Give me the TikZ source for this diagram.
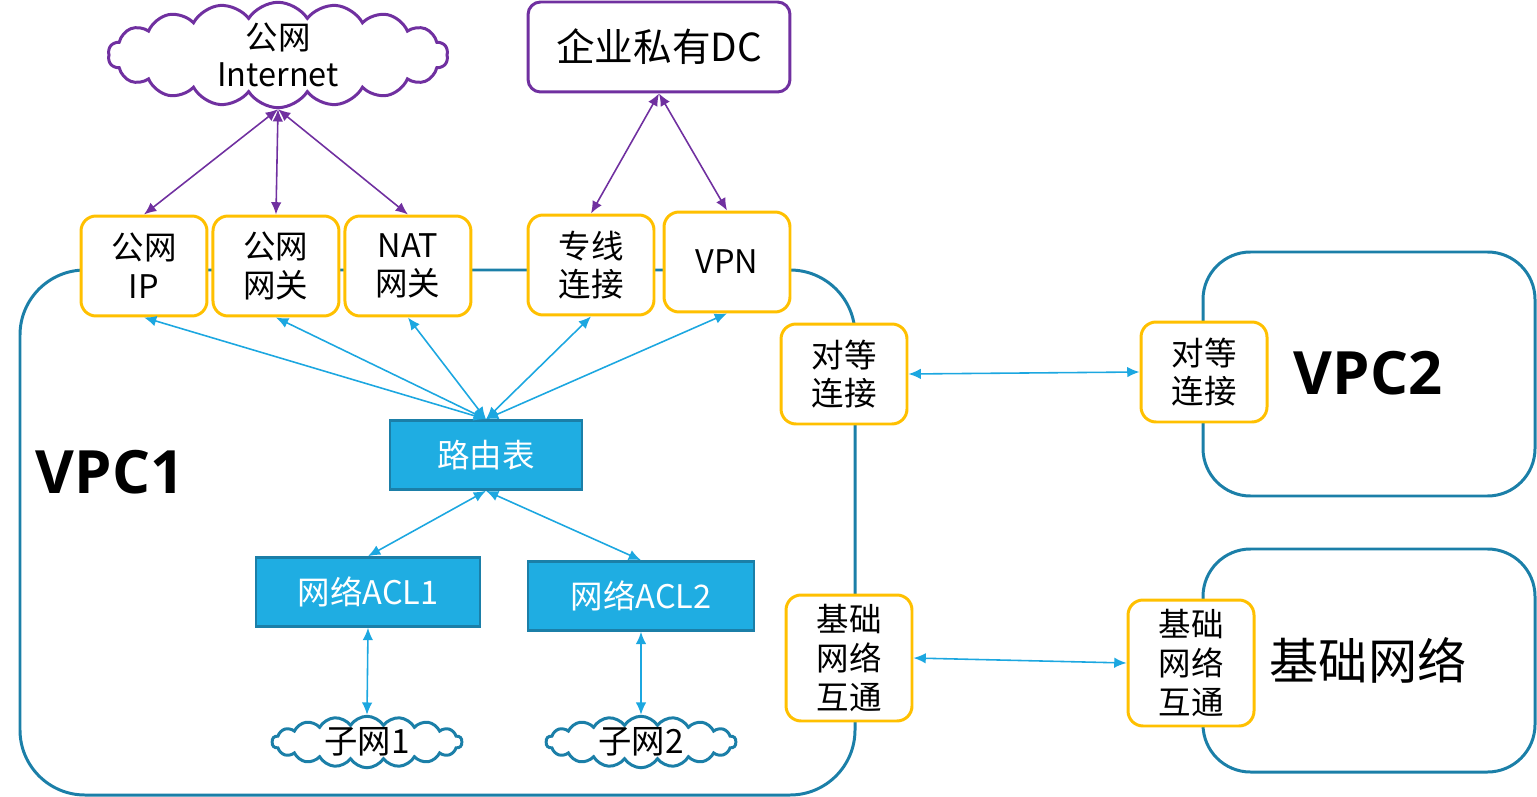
\documentclass[tikz,border=0pt]{standalone}
\usepackage{fontspec}
\setmainfont{Noto Sans CJK SC}
\newfontfamily\vpcfont{Open Sans}
\usepackage{tikz}
\usetikzlibrary{positioning,shapes.symbols,arrows.meta}
\definecolor{vpcline}{RGB}{27,127,168}
\definecolor{portline}{RGB}{255,192,0}
\definecolor{dcline}{RGB}{112,48,160}
\definecolor{linkline}{RGB}{28,167,224}
\definecolor{corefill}{RGB}{31,173,226}
\tikzstyle{vpc} = [draw=vpcline, line width=1.7pt]
\tikzstyle{port} = [rectangle, draw=portline, line width=1.7pt, fill=white,
    rounded corners=0.3cm, minimum width=2.52cm, minimum height=2cm,
    align=center, font=\fontsize{18.5}{22}\selectfont]
\tikzstyle{core} = [rectangle, draw=vpcline, line width=1.5pt, fill=corefill,
    text=white, minimum height=1.38cm, font=\fontsize{18.5}{22}\selectfont]
\tikzstyle{netcloud} = [cloud, cloud puffs=18, cloud puff arc=115, cloud ignores aspect, draw,
    line width=1.7pt, fill=white, align=center, inner sep=0pt]
\tikzstyle{line} = [draw, line width=0.9pt, >={Latex[length=7pt,width=6pt]}]

\begin{document}
\begin{tikzpicture}[x=0.02cm, y=-0.02cm, node distance=2.64cm]
    \useasboundingbox (0,0) rectangle (1537,797);
    % containers
    \draw [vpc, rounded corners=1.3cm] (20,270) rectangle (855,795);
    \draw [vpc, rounded corners=0.95cm] (1203,252) rectangle (1535,496);
    \draw [vpc, rounded corners=0.95cm] (1203,549) rectangle (1535,772);
    % Place nodes
    \node [netcloud, draw=dcline, minimum width=6.8cm, minimum height=1.8cm,
        font=\fontsize{18.5}{21}\selectfont] (inet) at (278,55) {公网\\Internet};
    \node [rectangle, draw=dcline, line width=1.7pt, rounded corners=0.25cm,
        minimum width=5.24cm, minimum height=1.8cm,
        font=\fontsize{22}{26}\selectfont] (dc) at (659,47) {企业私有DC};
    \node [port] (pip) at (144,266) {公网\\IP};
    \node [port, right of=pip] (pgw) {公网\\网关};
    \node [port, right of=pgw] (nat) {NAT\\网关};
    \node [port] (line1) at (591,265) {专线\\连接};
    \node [port] (vpn) at (727,262) {VPN};
    \node [core, minimum width=3.84cm] (rt) at (486,455) {路由表};
    \node [core, minimum width=4.48cm] (acl1) at (368,592) {网络ACL1};
    \node [core, minimum width=4.52cm] (acl2) at (641,596) {网络ACL2};
    \node [netcloud, draw=vpcline, minimum width=3.8cm, minimum height=1cm,
        font=\fontsize{19}{22}\selectfont] (sub1) at (367,742) {子网1};
    \node [netcloud, draw=vpcline, minimum width=3.8cm, minimum height=1cm,
        font=\fontsize{19}{22}\selectfont] (sub2) at (641,742) {子网2};
    \node [port] (peer1) at (844,374) {对等\\连接};
    \node [port] (peer2) at (1204,372) {对等\\连接};
    \node [port, minimum height=2.52cm] (base1) at (849,658) {基础\\网络\\互通};
    \node [port, minimum height=2.52cm] (base2) at (1191,663) {基础\\网络\\互通};
    \node [font=\vpcfont\bfseries\fontsize{34}{40}\selectfont] (vpc1) at (110,472) {VPC1};
    \node [font=\vpcfont\bfseries\fontsize{34}{40}\selectfont] (vpc2) at (1368,373) {VPC2};
    \node [font=\fontsize{28}{32}\selectfont] (base) at (1368,660) {基础网络};
    % Draw edges
    \path [line, <->, draw=dcline] (inet.south) -- (pip.north);
    \path [line, <->, draw=dcline] (inet.south) -- (pgw.north);
    \path [line, <->, draw=dcline] (inet.south) -- (nat.north);
    \path [line, <->, draw=dcline] (dc.south) -- (line1.north);
    \path [line, <->, draw=dcline] (dc.south) -- (vpn.north);
    \path [line, <->, draw=linkline] (rt.north) -- (pip.south);
    \path [line, <->, draw=linkline] (rt.north) -- (pgw.south);
    \path [line, <->, draw=linkline] (rt.north) -- (nat.south);
    \path [line, <->, draw=linkline] (rt.north) -- (line1.south);
    \path [line, <->, draw=linkline] (rt.north) -- (vpn.south);
    \path [line, <->, draw=linkline] (rt.south) -- (acl1.north);
    \path [line, <->, draw=linkline] (rt.south) -- (acl2.north);
    \path [line, <->, draw=linkline] (acl1.south) -- (sub1.north);
    \path [line, <->, draw=linkline] (acl2.south) -- (sub2.north);
    \path [line, <->, draw=linkline] (peer1.east) -- (peer2.west);
    \path [line, <->, draw=linkline] (base1.east) -- (base2.west);
\end{tikzpicture}
\end{document}
